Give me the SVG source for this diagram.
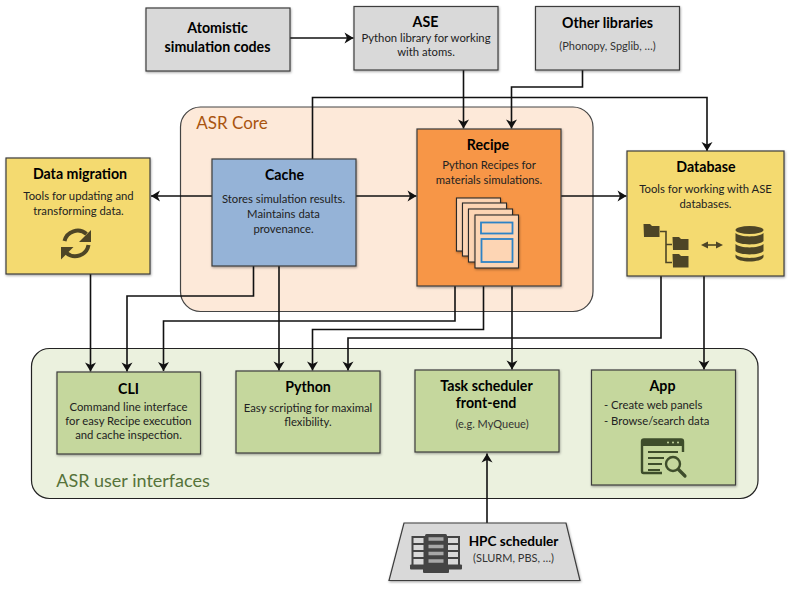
<svg xmlns="http://www.w3.org/2000/svg" width="789" height="592" viewBox="0 0 789 592">
<style>
text{font-family:Lato,"Liberation Sans",sans-serif;fill:#111;text-anchor:middle}
.t{font-size:14.200px;font-weight:700;fill:#000}
.d{font-size:11.300px;fill:#222}
.s{font-size:11px;fill:#333}
.box{stroke:#3c3c3c;stroke-width:1.200;filter:url(#sh)}
.gr{fill:#d9d9d9}.ye{fill:#f4da70}.gn{fill:#c5d79d}
.c{fill:none;stroke:#111;stroke-width:1.600;marker-end:url(#a)}
.ic{fill:#4d4526}
.ig{fill:#3e4d2b}
.pg{fill:#fdd5b4;stroke:#2a2a2a;stroke-width:1.100;filter:url(#sh)}
.bl{fill:none;stroke:#2e83c6;stroke-width:1.800}
</style>
<defs>
<filter id="sh" x="-10%" y="-10%" width="125%" height="125%"><feDropShadow dx="0.6" dy="1.2" stdDeviation="1" flood-color="#000" flood-opacity="0.35"/></filter>
<marker id="a" markerUnits="userSpaceOnUse" markerWidth="13" markerHeight="13" refX="10" refY="6" orient="auto"><path d="M1 0.500L10 6L1 11.500L3.500 6Z" fill="#111"/></marker>
</defs>
<g id="asr-core"><rect x="180.500" y="107" width="412.500" height="204.500" rx="20" fill="#fde9d9" stroke="#444" stroke-width="1.200"/><text x="232" y="129" style="font-size:17px;fill:#a9540f">ASR Core</text></g>
<g id="asr-ui"><rect x="31.500" y="348.500" width="726.500" height="150" rx="18" fill="#ebf1de" stroke="#222" stroke-width="1.200"/><text x="133" y="487" style="font-size:18px;fill:#56733a">ASR user interfaces</text></g>
<g id="connectors">
<path class="c" d="M290 38H353.500"/>
<path class="c" d="M312.500 159V97.500H707V151"/>
<path class="c" d="M463.500 70V128.500"/>
<path class="c" d="M582.500 70V87H511.500V128.500"/>
<path class="c" d="M212 196H151"/>
<path class="c" d="M356 196H416.500"/>
<path class="c" d="M561 196H626.500"/>
<path class="c" d="M90.500 274V371.500"/>
<path class="c" d="M253.500 266V296H127V371.500"/>
<path class="c" d="M455 286V321H163.500V371"/>
<path class="c" d="M279 266V370.500"/>
<path class="c" d="M483.500 286V329.500H312.500V370.500"/>
<path class="c" d="M661 276V338H348V370.500"/>
<path class="c" d="M512 286V369.500"/>
<path class="c" d="M704 276V369.500"/>
<path class="c" d="M487 523V453.500"/>
</g>
<g id="atomistic"><rect class="box gr" x="146" y="8" width="144" height="63"/><text class="t" x="217.500" y="33">Atomistic</text><text class="t" x="217.500" y="52">simulation codes</text></g>
<g id="ase"><rect class="box gr" x="354" y="6.500" width="144" height="63.500"/><text class="t" x="425.500" y="27">ASE</text><text class="d" x="426" y="42">Python library for working</text><text class="d" x="426" y="56">with atoms.</text></g>
<g id="other"><rect class="box gr" x="535.500" y="6.500" width="144" height="63.500"/><text class="t" x="607.500" y="28">Other libraries</text><text class="s" x="607.500" y="50">(Phonopy, Spglib, …)</text></g>
<g id="data-migration"><rect class="box ye" x="6" y="158" width="144" height="116"/><text class="t" x="80" y="179">Data migration</text><text class="d" x="78.500" y="200">Tools for updating and</text><text class="d" x="78.500" y="215">transforming data.</text>
<g fill="none" stroke="#4d4526" stroke-width="4"><path d="M64.500 241A13.500 13.500 0 0 1 86.500 234"/><path d="M88.500 245A13.500 13.500 0 0 1 66.500 253"/></g><path class="ic" d="M91 230V242H79Z"/><path class="ic" d="M61 247H73.500L61 259.500Z"/></g>
<g id="cache"><rect class="box" fill="#95b3d7" x="212" y="159" width="144" height="107"/><text class="t" x="284.500" y="180">Cache</text><text class="d" x="283.500" y="203">Stores simulation results.</text><text class="d" x="283.500" y="218">Maintains data</text><text class="d" x="283.500" y="233">provenance.</text></g>
<g id="recipe"><rect class="box" fill="#f79646" x="417" y="129" width="144" height="157"/><text class="t" x="488" y="150">Recipe</text><text class="d" x="489" y="169">Python Recipes for</text><text class="d" x="489" y="184">materials simulations.</text>
<rect class="pg" x="456.500" y="198" width="44" height="53"/><rect class="pg" x="462.500" y="203" width="44" height="53"/><rect class="pg" x="468.500" y="209" width="44" height="53"/><rect class="pg" x="475" y="215" width="43.500" height="53"/>
<rect class="bl" x="481" y="222.500" width="31.500" height="11"/><rect class="bl" x="481.500" y="239" width="31" height="23"/></g>
<g id="database"><rect class="box ye" x="627" y="151" width="157" height="125"/><text class="t" x="706" y="172">Database</text><text class="d" x="705.500" y="193">Tools for working with ASE</text><text class="d" x="705.500" y="208">databases.</text>
<path class="ic" d="M643.500 224H650L652 226H659.500V237H644Z"/><path class="ic" d="M672.500 237H679L681 239H688.500V250H673Z"/><path class="ic" d="M672.500 254H679L681 256H688.500V267.500H673Z"/>
<path fill="none" stroke="#4d4526" stroke-width="1.600" d="M660 231.500H666V262.500H672M666 244.500H672"/>
<path fill="none" stroke="#4d4526" stroke-width="1.600" d="M704 245H721"/><path class="ic" d="M701 245L708 241.500V248.500Z"/><path class="ic" d="M723 245L716 241.500V248.500Z"/>
<ellipse class="ic" cx="749.500" cy="230" rx="14" ry="4"/><path class="ic" d="M735.500 233V241C739 245.500 760 245.500 763.500 241V233C759 237.500 740 237.500 735.500 233Z"/><path class="ic" d="M735.500 244V251C739 255.500 760 255.500 763.500 251V244C759 248.500 740 248.500 735.500 244Z"/><path class="ic" d="M735.500 254.500V257C737 263 762 263 763.500 257V254.500C759 259 740 259 735.500 254.500Z"/></g>
<g id="cli"><rect class="box gn" x="57" y="372" width="143.500" height="82"/><text class="t" x="128.500" y="394">CLI</text><text class="d" x="128.500" y="411">Command line interface</text><text class="d" x="128.500" y="425">for easy Recipe execution</text><text class="d" x="128.500" y="439">and cache inspection.</text></g>
<g id="python"><rect class="box gn" x="236" y="371" width="144" height="82"/><text class="t" x="308" y="392">Python</text><text class="d" x="308" y="411.500">Easy scripting for maximal</text><text class="d" x="308" y="426">flexibility.</text></g>
<g id="task"><rect class="box gn" x="415" y="370" width="144" height="82"/><text class="t" x="486.500" y="391">Task scheduler</text><text class="t" x="486" y="408">front-end</text><text class="s" x="492" y="428">(e.g. MyQueue)</text></g>
<g id="app"><rect class="box gn" x="591.500" y="370" width="144" height="115"/><text class="t" x="662.500" y="391">App</text><text class="d" x="604" y="409" style="text-anchor:start">- Create web panels</text><text class="d" x="604" y="425" style="text-anchor:start">- Browse/search data</text>
<path fill="none" stroke="#3e4d2b" stroke-width="2.400" d="M662 473H643.500Q642 473 642 471V441.500Q642 439.500 644 439.500H681Q683 439.500 683 441.500V452"/>
<path class="ig" d="M642 441Q642 439 644 439H681Q683 439 683 441V446H642Z"/>
<path fill="none" stroke="#3e4d2b" stroke-width="2" d="M648 452H678M648 458H664M648 464H662M648 470H660"/>
<circle cx="673" cy="464" r="7" fill="none" stroke="#3e4d2b" stroke-width="2.400"/><path stroke="#3e4d2b" stroke-width="3.200" stroke-linecap="round" d="M678.500 469.500L685 476"/>
<circle cx="668" cy="442.500" r="1" fill="#c5d79d"/><circle cx="673" cy="442.500" r="1" fill="#c5d79d"/><circle cx="678" cy="442.500" r="1" fill="#c5d79d"/></g>
<g id="hpc"><path class="box gr" d="M404 523H566L580 580.500H389Z"/><text class="t" x="513.500" y="546" style="font-size:13.600px">HPC scheduler</text><text class="s" x="513.500" y="562">(SLURM, PBS, …)</text>
<rect x="412.500" y="537" width="12" height="30" fill="none" stroke="#444" stroke-width="2"/><path stroke="#444" stroke-width="2" d="M412 544H425M412 551H425M412 558H425"/>
<rect x="447" y="537" width="12" height="30" fill="none" stroke="#444" stroke-width="2"/><path stroke="#444" stroke-width="2" d="M447 544H460M447 551H460M447 558H460"/>
<rect x="425" y="534" width="22" height="34" fill="#444" rx="1.500"/><path stroke="#a8a8a8" stroke-width="3.600" d="M428.500 539H443.500M428.500 546.500H443.500M428.500 553.500H443.500M428.500 561H443.500"/>
<rect x="410" y="564.500" width="52" height="5" fill="#444" rx="1"/><rect x="423" y="566" width="26" height="7" fill="#444" rx="1"/></g>
</svg>
